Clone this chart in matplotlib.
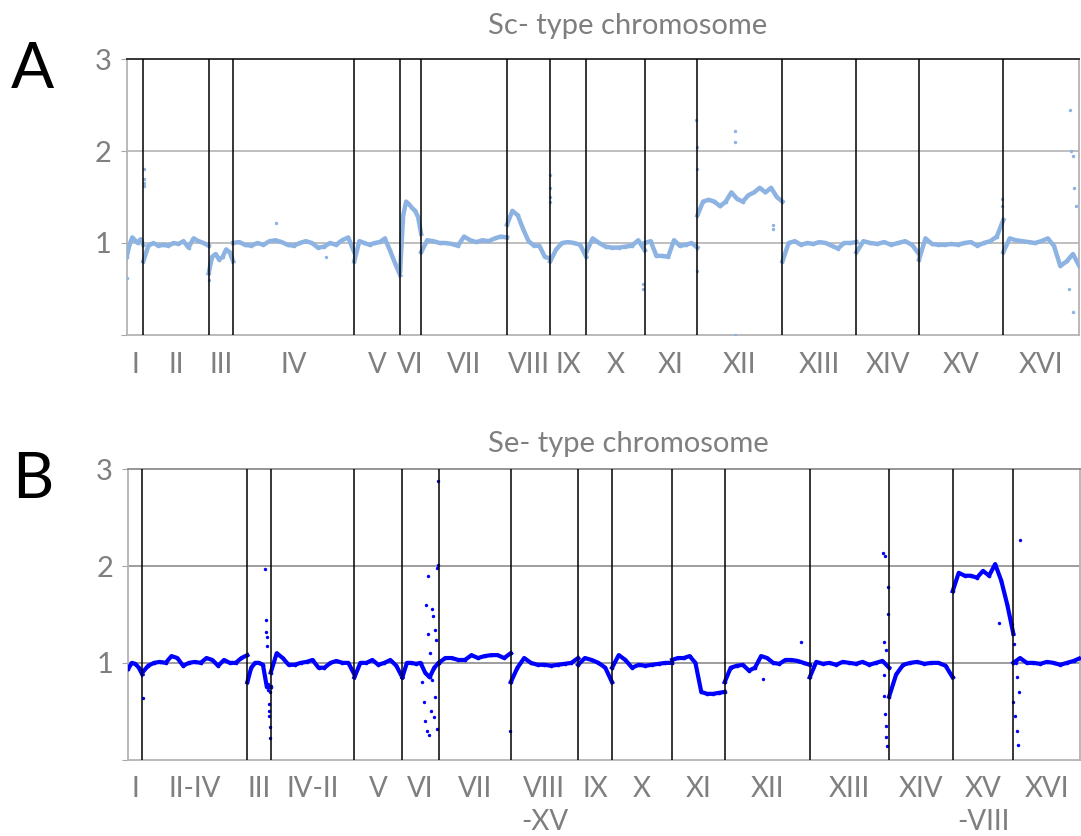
import matplotlib.pyplot as plt
import numpy as np

plt.rcParams['font.family'] = ['Lato', 'DejaVu Sans']

# ---- panel A: Sc-type chromosomes (length in kb, ratio profile read along each chromosome)
chrom_a = ['I', 'II', 'III', 'IV', 'V', 'VI', 'VII', 'VIII', 'IX', 'X',
           'XI', 'XII', 'XIII', 'XIV', 'XV', 'XVI']
len_a = [210, 825, 310, 1530, 580, 265, 1085, 545, 455, 740, 665, 1075, 935, 790, 1065, 960]
ratio_a = [
    [0.85, 0.98, 1.06, 1.03, 1.0, 1.04, 0.98],
    [0.8, 0.97, 1.0, 0.97, 0.98, 0.97, 1.0, 0.99, 1.02, 0.95, 1.05, 1.02, 1.0, 0.97],
    [0.67, 0.85, 0.88, 0.82, 0.85, 0.93, 0.9, 0.8],
    [1.0, 1.01, 0.98, 0.97, 1.0, 0.98, 1.02, 1.03, 1.01, 0.98, 0.97, 1.0, 1.02, 1.0,
     0.95, 0.96, 1.0, 0.98, 1.03, 1.06, 0.9],
    [0.8, 1.02, 1.0, 0.98, 1.0, 1.01, 1.05, 0.92, 0.78, 0.65],
    [0.7, 1.3, 1.45, 1.42, 1.38, 1.35, 1.28, 1.1],
    [0.9, 1.03, 1.02, 1.0, 1.0, 0.99, 0.97, 1.07, 1.03, 1.01, 1.03, 1.02, 1.05, 1.07, 1.06],
    [1.2, 1.35, 1.3, 1.15, 1.02, 0.97, 0.97, 0.85, 0.83],
    [0.8, 0.93, 1.0, 1.01, 1.0, 0.98, 0.85],
    [0.9, 1.05, 1.0, 0.96, 0.95, 0.95, 0.96, 0.97, 1.03, 0.92],
    [1.0, 1.02, 0.86, 0.86, 0.85, 1.03, 0.97, 0.98, 1.0, 0.95],
    [1.3, 1.45, 1.47, 1.45, 1.4, 1.45, 1.55, 1.48, 1.45, 1.52, 1.55, 1.6, 1.55, 1.6, 1.5, 1.45],
    [0.8, 1.0, 1.02, 0.98, 1.0, 0.99, 1.01, 1.0, 0.97, 0.94, 1.0, 1.0, 1.01],
    [0.9, 1.02, 1.0, 0.99, 1.01, 0.98, 1.0, 1.02, 0.98, 0.88],
    [0.82, 1.05, 0.99, 0.98, 0.98, 0.99, 0.98, 1.0, 1.01, 0.97, 1.0, 1.02, 1.07, 1.25],
    [0.9, 1.05, 1.03, 1.02, 1.01, 1.0, 1.02, 1.05, 0.97, 0.75, 0.8, 0.88, 0.75],
]
# isolated points (position kb, ratio)
out_a_pos = [3, 218, 220, 222, 224, 1040, 1886, 2520, 5345, 5348, 5350, 5352,
             6525, 6528, 7198, 7200, 7202, 7204, 7687, 7687, 7689, 8160, 8165,
             11055, 11058, 11900, 11920, 11930, 11950, 11960, 11970, 11990]
out_a_val = [0.62, 1.8, 1.7, 1.65, 1.62, 0.6, 1.22, 0.85, 1.74, 1.5, 1.45, 1.6,
             0.5, 0.55, 2.34, 2.04, 1.8, 0.7, 2.22, 2.1, 0.0, 1.2, 1.15,
             1.48, 1.4, 0.5, 2.45, 2.0, 1.95, 0.25, 1.6, 1.4]

# ---- panel B: Se-type chromosomes
chrom_b = ['I', 'II-IV', 'III', 'IV-II', 'V', 'VI', 'VII', 'VIII\n-XV', 'IX', 'X',
           'XI', 'XII', 'XIII', 'XIV', 'XV\n-VIII', 'XVI']
len_b = [177, 1326, 296, 1056, 606, 460, 909, 851, 429, 758, 664, 1074, 1003, 803, 767, 846]
ratio_b = [
    [0.94, 1.0, 0.99, 0.95, 0.88],
    [0.9, 0.97, 1.0, 1.01, 1.0, 1.07, 1.05, 0.97, 1.0, 1.01, 1.0, 1.05, 1.03, 0.97,
     1.03, 1.0, 1.0, 1.05, 1.08],
    [0.8, 0.95, 1.0, 1.0, 0.98, 0.75, 0.75],
    [0.9, 1.1, 1.05, 0.98, 0.98, 1.0, 1.01, 1.03, 0.95, 0.95, 1.0, 1.02, 1.0, 1.0, 0.88],
    [0.85, 1.0, 1.0, 1.03, 0.98, 1.0, 1.03, 0.97, 0.85],
    [0.85, 1.0, 1.0, 0.99, 1.0, 0.9, 0.85, 0.95, 1.0],
    [1.0, 1.05, 1.05, 1.03, 1.03, 1.08, 1.05, 1.07, 1.08, 1.08, 1.05, 1.1],
    [0.8, 0.95, 1.05, 1.0, 0.98, 0.98, 0.97, 0.98, 0.99, 1.0, 1.05],
    [0.98, 1.05, 1.03, 1.0, 0.95, 0.8],
    [0.95, 1.08, 1.03, 0.95, 0.98, 0.97, 0.98, 0.99, 1.0, 1.0],
    [1.03, 1.05, 1.05, 1.07, 1.0, 0.7, 0.68, 0.68, 0.69, 0.7],
    [0.8, 0.95, 0.97, 0.98, 0.92, 0.95, 1.07, 1.05, 1.0, 0.99, 1.03, 1.03, 1.02, 1.0, 0.98],
    [0.85, 1.01, 0.99, 1.0, 0.98, 1.01, 1.0, 0.99, 1.01, 0.98, 1.0, 1.02, 0.95],
    [0.65, 0.88, 0.98, 1.0, 1.01, 0.99, 1.0, 1.0, 0.97, 0.85],
    [1.74, 1.93, 1.9, 1.9, 1.88, 1.95, 1.9, 2.02, 1.85, 1.6, 1.3],
    [1.0, 1.05, 1.0, 1.0, 0.99, 1.01, 1.0, 0.98, 1.0, 1.02, 1.05],
]
out_b_pos = [182,
             1727, 1740, 1745, 1750, 1755, 1760, 1765, 1770, 1775, 1780, 1783, 1786, 1788, 1790,
             3714, 3730, 3745, 3760, 3770, 3780, 3790, 3800, 3810, 3820, 3830, 3840, 3850,
             3860, 3870, 3880, 3890, 3900, 3905, 3910, 3915,
             4827, 8018, 8496,
             9535, 9540, 9545, 9550, 9555, 9560, 9565, 9570, 9575, 9585, 9590, 9600,
             11000, 11163, 11170, 11180, 11190, 11200, 11210, 11220, 11230, 11240, 11250, 11265]
out_b_val = [0.64,
             1.97, 1.44, 1.32, 1.27, 1.17, 0.75, 0.72, 0.78, 0.58, 0.5, 0.45, 0.34, 0.22, 0.7,
             0.8, 0.6, 0.4, 1.6, 0.3, 1.3, 1.9, 0.25, 1.1, 0.5, 1.56, 0.82, 1.48,
             0.44, 1.34, 0.65, 1.24, 0.32, 1.98, 2.01, 2.88,
             0.3, 0.83, 1.22,
             2.13, 1.22, 0.87, 0.66, 2.1, 0.47, 0.35, 1.13, 0.23, 0.14, 1.78, 1.5,
             1.41, 1.4, 1.3, 0.6, 1.2, 0.45, 1.0, 0.3, 0.85, 0.15, 0.7, 2.27]


def draw(ax, names, lens, ratios, opos, oval, color, lw, grid_c, top_c):
    edges = np.concatenate([[0], np.cumsum(lens)])
    for i, vals in enumerate(ratios):
        xs = np.linspace(edges[i], edges[i + 1], len(vals))
        ax.plot(xs, vals, color=color, lw=lw, zorder=3)
        ax.scatter(xs, vals, s=7, color=color, lw=0, zorder=3)
    ax.scatter(opos, oval, s=6, color=color, lw=0, zorder=3)
    for e in edges[1:-1]:
        ax.axvline(e, color='black', lw=1.1, zorder=4)
    ax.set_xlim(0, edges[-1])
    ax.set_ylim(0, 3)
    ax.set_yticks([0, 1, 2, 3])
    ax.set_yticklabels(['', '1', '2', '3'])
    ax.set_xticks((edges[:-1] + edges[1:]) / 2)
    ax.set_xticklabels(names, linespacing=1.3, va='top')
    for y in (1, 2):
        ax.axhline(y, color=grid_c, lw=1.2, zorder=1)
    ax.tick_params(axis='x', length=0, pad=12, labelsize=20, labelcolor='#7f7f7f')
    ax.tick_params(axis='y', length=4, color='#a6a6a6', pad=7, labelsize=21,
                   labelcolor='#7f7f7f')
    for s in ('left', 'bottom', 'right'):
        ax.spines[s].set_color('#b4b4b4')
        ax.spines[s].set_linewidth(1.3)
    ax.spines['top'].set_color(top_c)
    ax.spines['top'].set_linewidth(1.3)


fig = plt.figure(figsize=(10.81, 8.36), dpi=100)
ax1 = fig.add_axes([0.1172, 0.5993, 0.8812, 0.3301])
ax2 = fig.add_axes([0.1187, 0.0913, 0.8807, 0.3474])

draw(ax1, chrom_a, len_a, ratio_a, out_a_pos, out_a_val, '#8db3e2', 3.2, '#b4b4b4', '#262626')
draw(ax2, chrom_b, len_b, ratio_b, out_b_pos, out_b_val, '#0000ff', 3.0, '#8c8c8c', '#8c8c8c')

fig.text(0.581, 0.969, 'Sc- type chromosome', ha='center', va='center', fontsize=21, color='#7f7f7f')
fig.text(0.581, 0.469, 'Se- type chromosome', ha='center', va='center', fontsize=21, color='#7f7f7f')
fig.text(0.030, 0.916, 'A', ha='center', va='center', fontsize=46, color='black')
fig.text(0.030, 0.426, 'B', ha='center', va='center', fontsize=46, color='black')

fig.savefig('out.png', dpi=100)
